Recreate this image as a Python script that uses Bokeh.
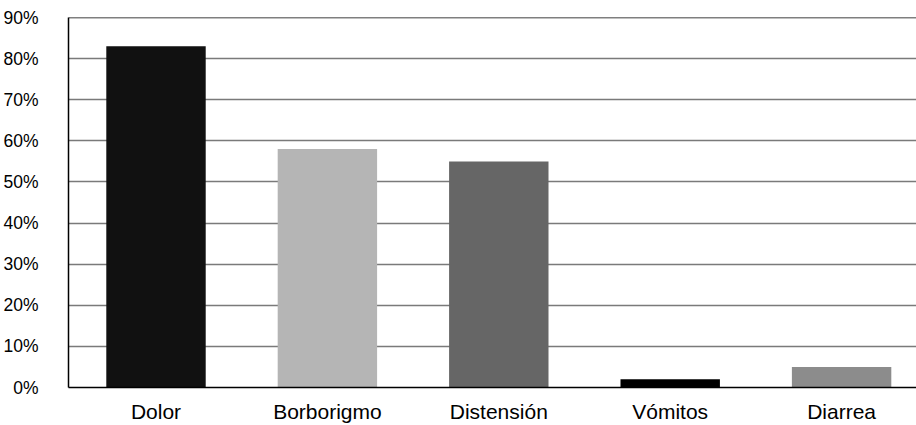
from bokeh.plotting import figure
from bokeh.models import Range1d, FixedTicker, Span, ColumnDataSource
from bokeh.embed import file_html
from bokeh.resources import INLINE

categories = ["Dolor", "Borborigmo", "Distensión", "Vómitos", "Diarrea"]
values = [83, 58, 55, 2, 5]
colors = ["#111111", "#b5b5b5", "#666666", "#000000", "#8c8c8c"]
y_ticks = [0, 10, 20, 30, 40, 50, 60, 70, 80, 90]

xs = [i + 0.5 for i in range(len(categories))]
src = ColumnDataSource(dict(x=xs, top=values, color=colors, name=categories))

p = figure(width=916, height=425, output_backend="svg", toolbar_location=None,
           x_range=Range1d(-0.0105, 4.937), y_range=Range1d(0, 90),
           min_border_left=68, min_border_right=0, min_border_top=17, min_border_bottom=35)
p.outline_line_color = None
p.background_fill_color = "white"
p.border_fill_color = "white"

p.vbar(x="x", top="top", bottom=0, width=0.58, color="color", line_color=None, source=src)

p.xgrid.grid_line_color = None
p.ygrid.grid_line_color = "#7a7a7a"
p.ygrid.grid_line_width = 1.5
p.ygrid.ticker = FixedTicker(ticks=y_ticks)

p.yaxis.ticker = FixedTicker(ticks=y_ticks)
p.yaxis.major_label_overrides = {t: f"{t}%" for t in y_ticks}
p.yaxis.major_tick_line_color = None
p.yaxis.minor_tick_line_color = None
p.yaxis.axis_line_color = "black"
p.yaxis.axis_line_width = 1.5
p.yaxis.major_label_standoff = 24
p.yaxis.major_label_text_font = "Liberation Sans"
p.yaxis.major_label_text_font_size = "17.5px"
p.yaxis.major_label_text_color = "black"

p.xaxis.ticker = FixedTicker(ticks=xs)
p.xaxis.major_label_overrides = {x: c for x, c in zip(xs, categories)}
p.xaxis.major_tick_line_color = None
p.xaxis.minor_tick_line_color = None
p.xaxis.axis_line_color = "black"
p.xaxis.axis_line_width = 1.5
p.xaxis.major_label_standoff = 6
p.xaxis.major_label_text_font = "Liberation Sans"
p.xaxis.major_label_text_font_size = "21px"
p.xaxis.major_label_text_color = "black"

p.add_layout(Span(location=90, dimension="width", line_color="black", line_width=1.5))

open("out.html", "w").write(file_html(p, INLINE))
